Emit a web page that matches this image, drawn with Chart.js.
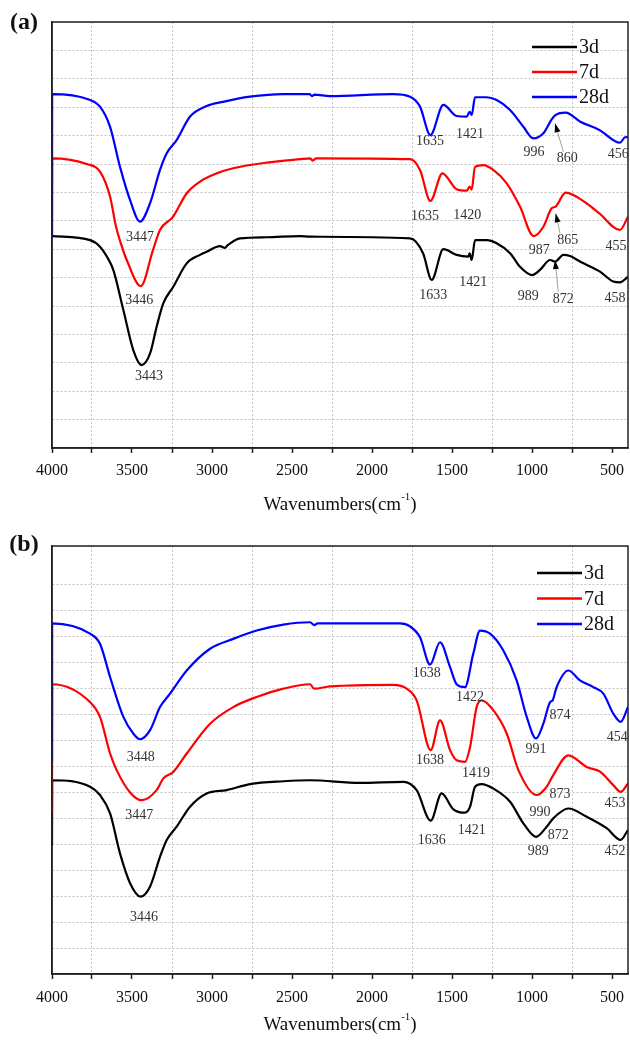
<!DOCTYPE html>
<html>
<head>
<meta charset="utf-8">
<script src="https://cdn.jsdelivr.net/npm/chart.js@4.4.0/dist/chart.umd.min.js"></script>
<style>
  body { margin: 0; background: #fff; }
  .panel { position: relative; width: 630px; height: 521px; }
  canvas { display: block; }
</style>
</head>
<body>
<div class="panel"><canvas id="chartA" width="630" height="521"></canvas></div>
<div class="panel"><canvas id="chartB" width="630" height="521"></canvas></div>
<script>
// ---- data (wavenumber cm-1, transmittance in arbitrary offset units) ----
const seriesNames = ['3d', '7d', '28d'];
const seriesColors = ['#000000', '#ff0000', '#0000ff'];
// x ticks every 250, labels only on the 500s
const xTicks = [4000, 3750, 3500, 3250, 3000, 2750, 2500, 2250, 2000, 1750, 1500, 1250, 1000, 750, 500];

// panel (a)  (first point = the low start value seen on the left axis)
const a3dX = [4000, 3762, 3700, 3658, 3617, 3554, 3492, 3440, 3387, 3346, 3304, 3242, 3158, 3075, 3033, 2950, 2920, 2900, 2825, 2658, 2450, 2387, 1762, 1681, 1627, 1554, 1471, 1398, 1390, 1377, 1356, 1283, 1221, 1137, 1075, 1000, 950, 887, 856, 804, 762, 698, 575, 492, 450, 400];
const a3dY = [7.46, 7.32, 7.09, 6.75, 6.27, 4.86, 3.45, 2.92, 3.33, 4.27, 5.1, 5.68, 6.5, 6.8, 6.91, 7.11, 7.05, 7.15, 7.38, 7.42, 7.46, 7.44, 7.38, 6.86, 5.92, 7.0, 6.8, 6.74, 6.85, 6.62, 7.32, 7.32, 7.21, 6.86, 6.38, 6.09, 6.27, 6.62, 6.56, 6.8, 6.76, 6.56, 6.21, 5.86, 5.83, 6.03];
const a7dX = [4000, 3999, 3783, 3700, 3637, 3600, 3556, 3533, 3445, 3369, 3325, 3244, 3158, 3075, 2971, 2868, 2658, 2450, 2387, 2370, 2350, 1762, 1700, 1635, 1560, 1471, 1408, 1390, 1377, 1356, 1304, 1242, 1158, 1075, 990, 929, 877, 852, 790, 658, 579, 450, 400];
const a7dY = [7.5, 10.2, 10.0, 9.73, 8.85, 7.8, 6.97, 6.62, 5.7, 6.97, 7.68, 8.14, 8.97, 9.38, 9.67, 9.85, 10.05, 10.17, 10.2, 10.12, 10.2, 10.17, 9.79, 8.7, 9.67, 9.11, 9.06, 9.2, 9.1, 9.9, 9.96, 9.79, 9.32, 8.5, 7.46, 7.79, 8.44, 8.5, 8.99, 8.61, 8.26, 7.68, 8.14];
const a28dX = [4000, 3999, 3775, 3700, 3637, 3575, 3512, 3450, 3387, 3325, 3283, 3220, 3137, 3033, 2931, 2762, 2556, 2390, 2375, 2360, 2262, 1869, 1762, 1700, 1635, 1554, 1471, 1408, 1390, 1377, 1356, 1283, 1221, 1137, 1054, 992, 929, 877, 852, 790, 698, 579, 450, 419, 400];
const a28dY = [7.44, 12.46, 12.28, 12.02, 11.31, 9.9, 8.73, 7.97, 8.62, 9.79, 10.38, 10.85, 11.67, 12.04, 12.19, 12.37, 12.46, 12.46, 12.39, 12.44, 12.39, 12.46, 12.37, 12.02, 11.02, 12.08, 11.69, 11.67, 11.84, 11.73, 12.35, 12.35, 12.25, 11.9, 11.31, 10.9, 11.08, 11.57, 11.73, 11.81, 11.49, 11.2, 10.75, 10.94, 10.95];

// panel (b)
const b3dX = [4000, 3999, 3762, 3700, 3637, 3575, 3512, 3446, 3387, 3325, 3283, 3221, 3137, 3033, 2908, 2762, 2554, 2387, 2075, 1804, 1721, 1633, 1565, 1492, 1419, 1387, 1356, 1315, 1242, 1137, 1054, 975, 908, 867, 773, 658, 533, 446, 400];
const b3dY = [4.98, 7.47, 7.22, 6.9, 6.19, 4.65, 3.5, 2.98, 3.37, 4.52, 5.17, 5.68, 6.45, 6.96, 7.09, 7.32, 7.43, 7.47, 7.37, 7.41, 7.09, 5.91, 6.96, 6.35, 6.22, 6.45, 7.22, 7.32, 7.15, 6.64, 5.81, 5.29, 5.68, 6.0, 6.38, 6.06, 5.62, 5.17, 5.55];
const b7dX = [4000, 3999, 3762, 3700, 3637, 3596, 3512, 3440, 3346, 3304, 3242, 3158, 3012, 2867, 2721, 2554, 2387, 2362, 2262, 1867, 1783, 1721, 1633, 1575, 1512, 1471, 1419, 1387, 1346, 1315, 1242, 1158, 1085, 971, 908, 867, 773, 658, 575, 492, 446, 400];
const b7dY = [6.2, 11.17, 10.48, 9.91, 8.5, 7.86, 7.0, 6.7, 7.09, 7.54, 7.79, 8.5, 9.65, 10.29, 10.68, 11.0, 11.17, 11.0, 11.09, 11.15, 11.0, 10.55, 8.63, 9.78, 8.63, 8.24, 8.18, 8.75, 10.29, 10.55, 10.17, 9.27, 7.86, 6.9, 7.22, 7.67, 8.43, 7.98, 7.8, 7.28, 7.02, 7.35];
const b28dX = [4000, 3999, 3762, 3700, 3637, 3554, 3492, 3450, 3387, 3325, 3262, 3158, 3012, 2867, 2721, 2554, 2387, 2360, 2340, 1825, 1762, 1700, 1637, 1575, 1512, 1471, 1419, 1367, 1325, 1262, 1179, 1096, 1033, 975, 929, 887, 871, 846, 773, 700, 617, 554, 492, 446, 400];
const b28dY = [8.18, 13.52, 13.12, 12.73, 11.45, 9.91, 9.27, 9.05, 9.4, 10.29, 10.81, 11.7, 12.54, 12.92, 13.24, 13.47, 13.56, 13.45, 13.52, 13.52, 13.4, 12.98, 11.93, 12.79, 11.83, 11.17, 11.06, 12.35, 13.24, 13.12, 12.47, 11.32, 9.91, 9.08, 9.65, 10.48, 10.55, 11.06, 11.7, 11.32, 11.06, 10.81, 10.04, 9.72, 10.29];

// peak labels: [wavenumber, y value, text]
const peaksA = [
    [3450, 7.42, '3447'], [3454, 5.19, '3446'], [3394, 2.54, '3443'],
    [1637, 10.79, '1635'], [1387, 11.06, '1421'], [987, 10.4, '996'], [779, 10.2, '860'], [461, 10.35, '456'],
    [1669, 8.14, '1635'], [1404, 8.2, '1420'], [954, 6.97, '987'], [777, 7.3, '865'], [475, 7.09, '455'],
    [1617, 5.36, '1633'], [1367, 5.83, '1421'], [1023, 5.33, '989'], [804, 5.25, '872'], [481, 5.27, '458']
];
const peaksB = [
    [3446, 8.35, '3448'], [3454, 6.1, '3447'], [3425, 2.18, '3446'],
    [1658, 11.58, '1638'], [1387, 10.68, '1422'], [975, 8.65, '991'], [825, 9.97, '874'], [467, 9.14, '454'],
    [1637, 8.24, '1638'], [1350, 7.73, '1419'], [950, 6.23, '990'], [825, 6.93, '873'], [481, 6.58, '453'],
    [1627, 5.17, '1636'], [1377, 5.55, '1421'], [961, 4.72, '989'], [836, 5.36, '872'], [481, 4.74, '452']
];
// arrows: [tail wn, tail y, tip wn, tip y]
const arrowsA = [
    [804, 10.43, 856, 11.43],
    [825, 7.57, 852, 8.26],
    [836, 5.5, 856, 6.62]
];

const SERIF = "'Liberation Serif', 'Times New Roman', serif";

function toPoints(xs, ys) {
    return xs.map((x, i) => ({x: x, y: ys[i]}));
}

// custom drawing: frame, panel tag, legend, peak labels, arrows, axis title
const decorPlugin = {
    id: 'decor',
    afterDraw(chart, args, opts) {
        const ctx = chart.ctx;
        const area = chart.chartArea;
        const xs = chart.scales.x, ys = chart.scales.y;
        ctx.save();

        // frame
        ctx.strokeStyle = '#222';
        ctx.lineWidth = 1.5;
        ctx.strokeRect(area.left, area.top, area.right - area.left, area.bottom - area.top);

        // peak labels
        ctx.fillStyle = '#333';
        ctx.font = '14px ' + SERIF;
        ctx.textAlign = 'center';
        ctx.textBaseline = 'middle';
        opts.peaks.forEach(p => {
            ctx.fillText(p[2], xs.getPixelForValue(p[0]), ys.getPixelForValue(p[1]));
        });

        // arrows
        opts.arrows.forEach(a => {
            const x1 = xs.getPixelForValue(a[0]), y1 = ys.getPixelForValue(a[1]);
            const x2 = xs.getPixelForValue(a[2]), y2 = ys.getPixelForValue(a[3]);
            const ang = Math.atan2(y2 - y1, x2 - x1);
            ctx.strokeStyle = '#888';
            ctx.lineWidth = 0.8;
            ctx.beginPath();
            ctx.moveTo(x1, y1);
            ctx.lineTo(x2, y2);
            ctx.stroke();
            ctx.fillStyle = '#000';
            ctx.beginPath();
            ctx.moveTo(x2, y2);
            ctx.lineTo(x2 - 9 * Math.cos(ang) + 3 * Math.sin(ang), y2 - 9 * Math.sin(ang) - 3 * Math.cos(ang));
            ctx.lineTo(x2 - 9 * Math.cos(ang) - 3 * Math.sin(ang), y2 - 9 * Math.sin(ang) + 3 * Math.cos(ang));
            ctx.closePath();
            ctx.fill();
        });

        // legend
        ctx.font = '20px ' + SERIF;
        ctx.textAlign = 'left';
        chart.data.datasets.forEach((ds, i) => {
            const y = opts.legendY + i * opts.legendGap;
            ctx.strokeStyle = ds.borderColor;
            ctx.lineWidth = 2.5;
            ctx.beginPath();
            ctx.moveTo(opts.legendX, y);
            ctx.lineTo(opts.legendX + 45, y);
            ctx.stroke();
            ctx.fillStyle = '#111';
            ctx.fillText(ds.label, opts.legendX + 47, y + 1);
        });

        // panel tag
        ctx.font = 'bold 24px ' + SERIF;
        ctx.textAlign = 'center';
        ctx.fillStyle = '#111';
        ctx.fillText(opts.tag, 24, opts.tagY);

        // axis title with superscript
        const cx = (area.left + area.right) / 2;
        const ty = opts.titleY;
        ctx.font = '19px ' + SERIF;
        const p1 = 'Wavenumbers(cm', p3 = ')';
        const w1 = ctx.measureText(p1).width, w3 = ctx.measureText(p3).width;
        ctx.font = '11px ' + SERIF;
        const p2 = '-1';
        const w2 = ctx.measureText(p2).width;
        let x = cx - (w1 + w2 + w3) / 2;
        ctx.textAlign = 'left';
        ctx.font = '19px ' + SERIF;
        ctx.fillText(p1, x, ty);
        x += w1;
        ctx.font = '11px ' + SERIF;
        ctx.fillText(p2, x, ty - 8);
        x += w2;
        ctx.font = '19px ' + SERIF;
        ctx.fillText(p3, x, ty);

        ctx.restore();
    }
};

function makeChart(id, sets, yMax, cfg) {
    const datasets = sets.map((s, i) => ({
        label: seriesNames[i],
        data: toPoints(s[0], s[1]),
        borderColor: seriesColors[i],
        borderWidth: 2.2,
        pointRadius: 0,
        fill: false,
        order: 2 - i,          // 28d on top, 3d at the bottom
        cubicInterpolationMode: 'monotone'
    }));
    return new Chart(document.getElementById(id), {
        type: 'line',
        data: {datasets: datasets},
        options: {
            responsive: false,
            animation: false,
            events: [],
            layout: {padding: {top: cfg.top, right: 2, left: 0, bottom: 0}},
            plugins: {
                legend: {display: false},
                tooltip: {enabled: false},
                decor: {
                    peaks: cfg.peaks, arrows: cfg.arrows, tag: cfg.tag, tagY: cfg.tagY,
                    legendX: cfg.legendX, legendY: cfg.legendY, legendGap: cfg.legendGap,
                    titleY: cfg.titleY
                }
            },
            scales: {
                x: {
                    type: 'linear',
                    reverse: true,
                    min: 400,
                    max: 4000,
                    afterBuildTicks: s => { s.ticks = xTicks.map(v => ({value: v})); },
                    afterFit: s => { s.height = cfg.xHeight; s.paddingLeft = 0; s.paddingRight = 0; },
                    ticks: {
                        autoSkip: false,
                        maxRotation: 0,
                        padding: cfg.tickPad,
                        color: '#111',
                        font: {family: SERIF, size: 16},
                        callback: v => (v % 500 === 0 ? String(v) : '')
                    },
                    grid: {
                        color: c => (c.tick && c.tick.value % 500 !== 0) ? '#c4c4c4' : 'rgba(0,0,0,0)',
                        tickColor: '#222',
                        lineWidth: 1,
                        tickWidth: 1.5,
                        tickLength: 5
                    },
                    border: {display: true, color: '#222', width: 1.5, dash: [2, 2]}
                },
                y: {
                    min: 0,
                    max: yMax,
                    afterFit: s => { s.width = 52; s.paddingTop = 0; s.paddingBottom = 0; },
                    ticks: {display: false, stepSize: 1},
                    grid: {color: '#c4c4c4', lineWidth: 1, drawTicks: false},
                    border: {display: true, color: '#222', width: 1.5, dash: [2, 2]}
                }
            }
        },
        plugins: [decorPlugin]
    });
}

makeChart('chartA', [[a3dX, a3dY], [a7dX, a7dY], [a28dX, a28dY]], 15, {
    top: 22, xHeight: 73, tickPad: 8, peaks: peaksA, arrows: arrowsA,
    tag: '(a)', tagY: 23, legendX: 532, legendY: 47, legendGap: 25, titleY: 505
});
makeChart('chartB', [[b3dX, b3dY], [b7dX, b7dY], [b28dX, b28dY]], 16.5, {
    top: 25, xHeight: 68, tickPad: 9, peaks: peaksB, arrows: [],
    tag: '(b)', tagY: 24, legendX: 537, legendY: 52, legendGap: 25.5, titleY: 504
});
</script>
</body>
</html>
